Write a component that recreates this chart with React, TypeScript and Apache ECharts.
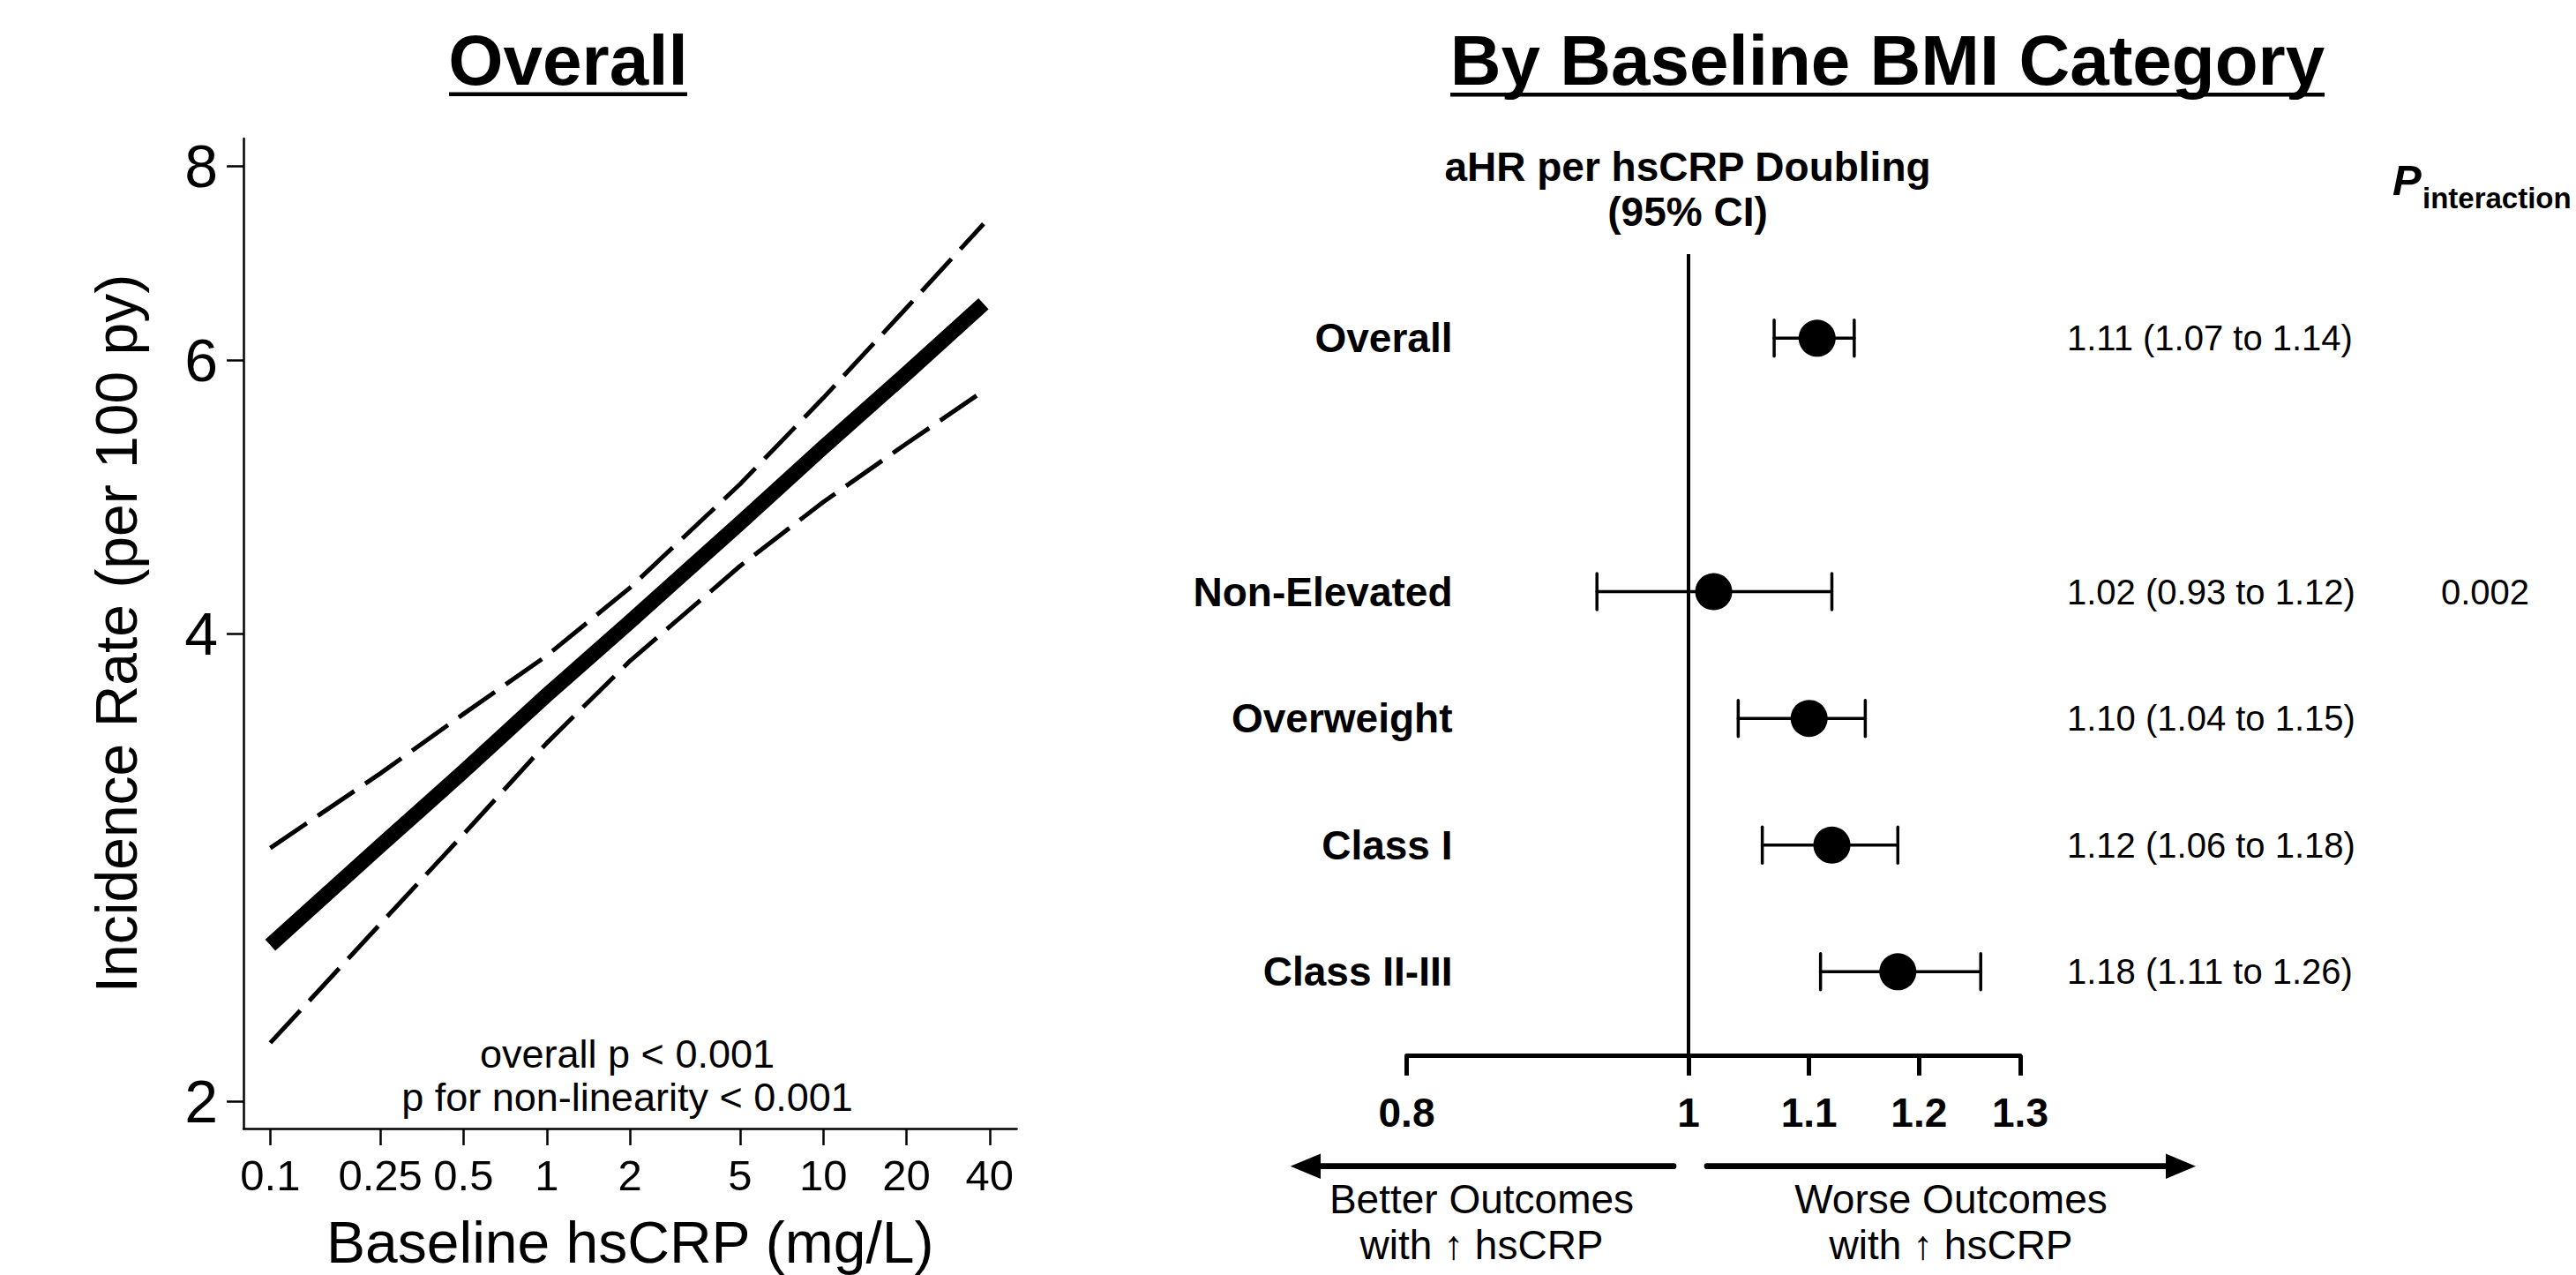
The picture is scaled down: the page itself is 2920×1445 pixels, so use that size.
import React, { useEffect, useRef } from "react";
import * as echarts from "echarts";

const FONT = "'Liberation Sans', Arial, Helvetica, sans-serif";

// ---------- Left panel: incidence rate vs baseline hsCRP (log-log) ----------
const hsCRP = [0.1, 0.25, 0.5, 1, 2, 5, 10, 20, 38];
const rateFit = [2.52, 2.92, 3.26, 3.65, 4.07, 4.71, 5.27, 5.88, 6.52];
const rateUpper = [2.91, 3.25, 3.55, 3.87, 4.28, 4.99, 5.67, 6.48, 7.34];
const rateLower = [2.18, 2.6, 2.97, 3.4, 3.84, 4.42, 4.86, 5.3, 5.73];
const xTickValues = [0.1, 0.25, 0.5, 1, 2, 5, 10, 20, 40];
const xTickLabels = ["0.1", "0.25", "0.5", "1", "2", "5", "10", "20", "40"];
const yTickValues = [2, 4, 6, 8];
const yTickLabels = ["2", "4", "6", "8"];

// ---------- Right panel: forest plot by BMI category ----------
const rowLabels = ["Overall", "", "Non-Elevated", "Overweight", "Class I", "Class II-III"];
const hrEst = [1.107, null, 1.02, 1.1, 1.12, 1.18];
const hrLow = [1.07, null, 0.93, 1.04, 1.06, 1.11];
const hrHigh = [1.14, null, 1.12, 1.15, 1.18, 1.26];
const pInteraction = ["", "", "0.002", "", "", ""];
const hrTickValues = [0.8, 1, 1.1, 1.2, 1.3];
const hrTickLabels = ["0.8", "1", "1.1", "1.2", "1.3"];

function nearestLabel(v: number, values: number[], labels: string[]) {
  let best = 0;
  let bd = Infinity;
  values.forEach((t, i) => {
    const d = Math.abs(Math.log(t) - Math.log(v));
    if (d < bd) {
      bd = d;
      best = i;
    }
  });
  return labels[best];
}

function rowText(i: number) {
  if (hrEst[i] == null) return "";
  return `${(hrEst[i] as number).toFixed(2)} (${(hrLow[i] as number).toFixed(2)} to ${(hrHigh[i] as number).toFixed(2)})`;
}

const ROW_MIN = -0.664;
const ROW_MAX = 5.659;
const rowIdx = rowLabels.map((_, i) => i).filter((i) => rowLabels[i] !== "");

function txt(x: number, y: number, text: string, size: number, opts: any = {}) {
  const align = opts.align || "center";
  return {
    type: "text",
    x,
    y,
    silent: true,
    style: {
      text,
      fontSize: size,
      fontFamily: FONT,
      fontWeight: opts.weight || "normal",
      fontStyle: opts.style || "normal",
      fill: "#000",
      align,
      textAlign: align,
      verticalAlign: "middle",
      textVerticalAlign: "middle",
    },
  };
}

export default function App() {
  const ref = useRef<HTMLDivElement>(null);

  useEffect(() => {
    if (!ref.current) return;
    const chart = echarts.init(ref.current, null, { renderer: "svg" });

    const axisText = { color: "#000", fontFamily: FONT };

    const option: any = {
      animation: false,
      backgroundColor: "#fff",
      grid: [
        { left: 276, top: 157, right: 2920 - 1152.5, bottom: 1445 - 1279, outerBoundsMode: "none", containLabel: false },
        { left: 1594.5, top: 288, right: 2920 - 2290, bottom: 1445 - 1196, outerBoundsMode: "none", containLabel: false },
      ],
      xAxis: [
        {
          type: "log",
          gridIndex: 0,
          min: 0.08,
          max: 50.1,
          name: "Baseline hsCRP (mg/L)",
          nameLocation: "middle",
          nameGap: 96,
          nameMoveOverlap: false,
          nameTextStyle: { ...axisText, fontSize: 66 },
          axisLine: { show: true, onZero: false, lineStyle: { color: "#000", width: 2.5 } },
          axisTick: { show: true, inside: false, length: 19, customValues: xTickValues, lineStyle: { color: "#000", width: 2.5 } },
          axisLabel: {
            ...axisText,
            fontSize: 49,
            margin: 28,
            customValues: xTickValues,
            hideOverlap: false,
            formatter: (v: number) => nearestLabel(v, xTickValues, xTickLabels),
          },
          splitLine: { show: false },
          minorTick: { show: false },
          minorSplitLine: { show: false },
        },
        {
          type: "log",
          gridIndex: 1,
          min: 0.8,
          max: 1.3,
          axisLine: { show: true, onZero: false, lineStyle: { color: "#000", width: 5 } },
          axisTick: { show: true, inside: false, length: 23, customValues: hrTickValues, lineStyle: { color: "#000", width: 5 } },
          axisLabel: {
            ...axisText,
            fontSize: 46,
            fontWeight: "bold",
            margin: 42,
            customValues: hrTickValues,
            hideOverlap: false,
            formatter: (v: number) => nearestLabel(v, hrTickValues, hrTickLabels),
          },
          splitLine: { show: false },
          minorTick: { show: false },
          minorSplitLine: { show: false },
        },
      ],
      yAxis: [
        {
          type: "log",
          gridIndex: 0,
          min: 1.92,
          max: 8.33,
          name: "Incidence Rate (per 100 py)",
          nameLocation: "middle",
          nameGap: 111,
          nameMoveOverlap: false,
          nameTextStyle: { ...axisText, fontSize: 66 },
          axisLine: { show: true, onZero: false, lineStyle: { color: "#000", width: 2.5 } },
          axisTick: { show: true, inside: false, length: 19, customValues: yTickValues, lineStyle: { color: "#000", width: 2.5 } },
          axisLabel: {
            ...axisText,
            fontSize: 68,
            margin: 29,
            customValues: yTickValues,
            hideOverlap: false,
            formatter: (v: number) => nearestLabel(v, yTickValues, yTickLabels),
          },
          splitLine: { show: false },
          minorTick: { show: false },
          minorSplitLine: { show: false },
        },
        {
          type: "value",
          gridIndex: 1,
          inverse: true,
          min: ROW_MIN,
          max: ROW_MAX,
          axisLine: { show: false },
          axisTick: { show: false },
          splitLine: { show: false },
          axisLabel: {
            ...axisText,
            fontSize: 46,
            fontWeight: "bold",
            margin: -52,
            align: "right",
            customValues: rowIdx,
            hideOverlap: false,
            formatter: (v: number) => rowLabels[Math.round(v)] || "",
          },
        },
        {
          type: "value",
          gridIndex: 1,
          position: "right",
          inverse: true,
          min: ROW_MIN,
          max: ROW_MAX,
          axisLine: { show: false },
          axisTick: { show: false },
          splitLine: { show: false },
          axisLabel: {
            ...axisText,
            fontSize: 40,
            margin: 53,
            align: "left",
            customValues: rowIdx,
            hideOverlap: false,
            formatter: (v: number) => rowText(Math.round(v)),
          },
        },
        {
          type: "value",
          gridIndex: 1,
          position: "right",
          offset: 477,
          inverse: true,
          min: ROW_MIN,
          max: ROW_MAX,
          axisLine: { show: false },
          axisTick: { show: false },
          splitLine: { show: false },
          axisLabel: {
            ...axisText,
            fontSize: 40,
            margin: 0,
            align: "left",
            customValues: rowIdx,
            hideOverlap: false,
            formatter: (v: number) => pInteraction[Math.round(v)] || "",
          },
        },
      ],
      series: [
        {
          type: "line",
          xAxisIndex: 0,
          yAxisIndex: 0,
          data: hsCRP.map((x, i) => [x, rateUpper[i]]),
          showSymbol: false,
          symbol: "none",
          lineStyle: { color: "#000", width: 5, type: [50, 15], cap: "butt" },
          z: 3,
        },
        {
          type: "line",
          xAxisIndex: 0,
          yAxisIndex: 0,
          data: hsCRP.map((x, i) => [x, rateLower[i]]),
          showSymbol: false,
          symbol: "none",
          lineStyle: { color: "#000", width: 5, type: [50, 15], cap: "butt" },
          z: 3,
        },
        {
          type: "line",
          xAxisIndex: 0,
          yAxisIndex: 0,
          data: hsCRP.map((x, i) => [x, rateFit[i]]),
          showSymbol: false,
          symbol: "none",
          lineStyle: { color: "#000", width: 17, cap: "butt", join: "round" },
          z: 4,
        },
        {
          type: "custom",
          xAxisIndex: 1,
          yAxisIndex: 1,
          data: rowIdx.map((i) => [i, hrLow[i], hrHigh[i]]),
          encode: { x: [1, 2], y: 0 },
          renderItem: (params: any, api: any) => {
            const y = api.value(0);
            const pLo = api.coord([api.value(1), y]);
            const pHi = api.coord([api.value(2), y]);
            const h = 20.5;
            const style = { stroke: "#000", lineWidth: 3.5, lineCap: "round", fill: "none" };
            return {
              type: "group",
              children: [
                { type: "line", shape: { x1: pLo[0], y1: pLo[1], x2: pHi[0], y2: pHi[1] }, style },
                { type: "line", shape: { x1: pLo[0], y1: pLo[1] - h, x2: pLo[0], y2: pLo[1] + h }, style },
                { type: "line", shape: { x1: pHi[0], y1: pHi[1] - h, x2: pHi[0], y2: pHi[1] + h }, style },
              ],
            };
          },
          z: 3,
        },
        {
          type: "scatter",
          xAxisIndex: 1,
          yAxisIndex: 1,
          data: rowIdx.map((i) => [hrEst[i], i]),
          symbol: "circle",
          symbolSize: 42,
          itemStyle: { color: "#000", opacity: 1 },
          z: 5,
          markLine: {
            silent: true,
            symbol: ["none", "none"],
            label: { show: false },
            lineStyle: { color: "#000", width: 4, type: "solid" },
            data: [{ xAxis: 1 }],
            z: 2,
          },
        },
      ],
      graphic: {
        elements: [
          // titles
          txt(644, 68, "Overall", 80, { weight: "bold" }),
          { type: "rect", silent: true, shape: { x: 509, y: 104.5, width: 270, height: 4.5 }, style: { fill: "#000" } },
          txt(2139.5, 68, "By Baseline BMI Category", 80, { weight: "bold" }),
          { type: "rect", silent: true, shape: { x: 1644, y: 105, width: 991, height: 4.5 }, style: { fill: "#000" } },
          // left annotations
          txt(711, 1194, "overall p < 0.001", 45),
          txt(711, 1243, "p for non-linearity < 0.001", 45),
          // forest header
          txt(1913, 189, "aHR per hsCRP Doubling", 46, { weight: "bold" }),
          txt(1913, 240, "(95% CI)", 46, { weight: "bold" }),
          txt(2712, 204, "P", 49, { weight: "bold", style: "italic", align: "left" }),
          txt(2746, 224, "interaction", 33, { weight: "bold", align: "left" }),
          // arrows
          {
            type: "line",
            silent: true,
            shape: { x1: 1495, y1: 1321.7, x2: 1897, y2: 1321.7 },
            style: { stroke: "#000", lineWidth: 6.7, lineCap: "round" },
          },
          {
            type: "polygon",
            silent: true,
            shape: { points: [[1462.7, 1321.7], [1497, 1307.5], [1497, 1336]] },
            style: { fill: "#000" },
          },
          {
            type: "line",
            silent: true,
            shape: { x1: 1935, y1: 1321.7, x2: 2457, y2: 1321.7 },
            style: { stroke: "#000", lineWidth: 6.7, lineCap: "round" },
          },
          {
            type: "polygon",
            silent: true,
            shape: { points: [[2489, 1321.7], [2455, 1307.5], [2455, 1336]] },
            style: { fill: "#000" },
          },
          txt(1679.5, 1359, "Better Outcomes", 46),
          txt(1679.5, 1411, "with \u2191 hsCRP", 46),
          txt(2211.5, 1359, "Worse Outcomes", 46),
          txt(2211.5, 1411, "with \u2191 hsCRP", 46),
        ],
      },
    };

    chart.setOption(option);
    return () => chart.dispose();
  }, []);

  return (
    <div
      ref={ref}
      style={{ position: "fixed", left: 0, top: 0, width: 2920, height: 1445, background: "#fff" }}
    />
  );
}
